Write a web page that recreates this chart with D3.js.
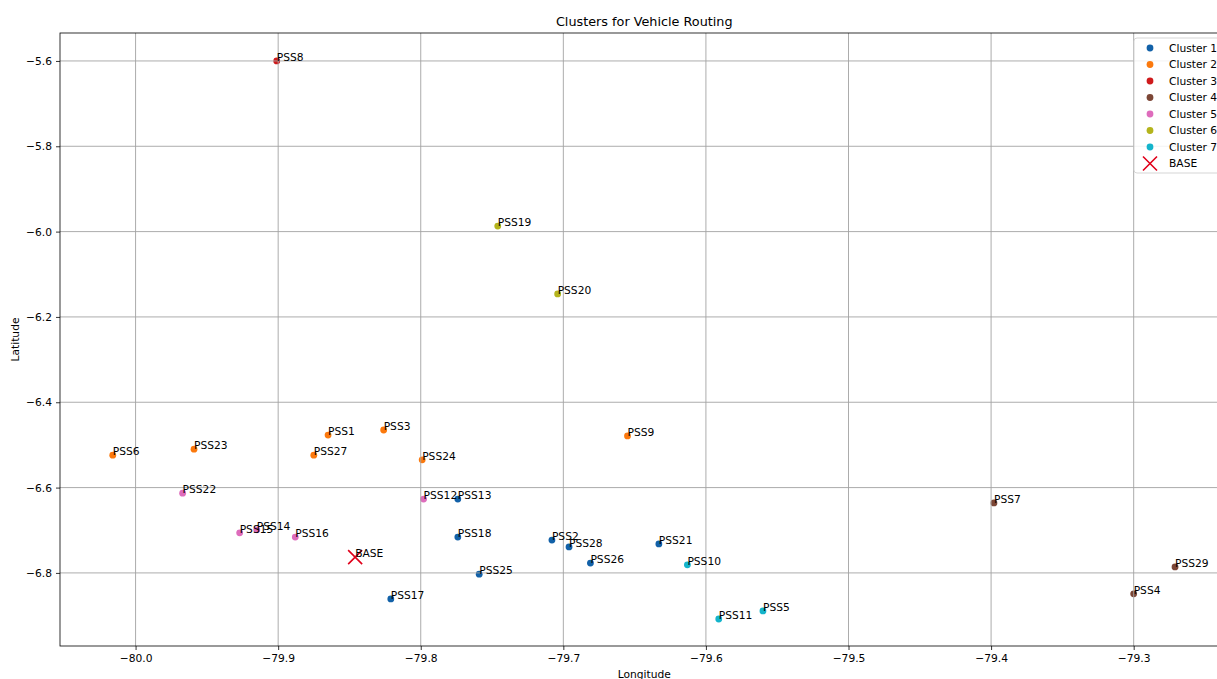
<!DOCTYPE html>
<html>
<head>
<meta charset="utf-8">
<script src="https://cdn.jsdelivr.net/npm/d3@7"></script>
<style>
  html, body { margin: 0; padding: 0; background: #fff; }
  svg { display: block; font-family: "DejaVu Sans", sans-serif; }
</style>
</head>
<body>
<svg id="chart" width="1217" height="679"></svg>
<script>
// Stop names, coordinates and cluster assignment
const stations = ["PSS1","PSS2","PSS3","PSS4","PSS5","PSS6","PSS7","PSS8","PSS9","PSS10",
  "PSS11","PSS12","PSS13","PSS14","PSS15","PSS16","PSS17","PSS18","PSS19","PSS20",
  "PSS21","PSS22","PSS23","PSS24","PSS25","PSS26","PSS27","PSS28","PSS29"];
const longitudes = [-79.865,-79.708,-79.826,-79.300,-79.560,-80.016,-79.398,-79.901,-79.655,-79.613,
  -79.591,-79.798,-79.774,-79.915,-79.927,-79.888,-79.821,-79.774,-79.746,-79.704,
  -79.633,-79.967,-79.959,-79.799,-79.759,-79.681,-79.875,-79.696,-79.271];
const latitudes = [-6.477,-6.723,-6.465,-6.849,-6.889,-6.524,-6.636,-5.600,-6.479,-6.781,
  -6.908,-6.627,-6.627,-6.699,-6.706,-6.716,-6.861,-6.716,-5.987,-6.146,
  -6.732,-6.613,-6.510,-6.535,-6.803,-6.777,-6.524,-6.739,-6.786];
const clusterOf = [2,1,2,4,7,2,4,3,2,7,
  7,5,1,5,5,5,1,1,6,6,
  1,5,2,2,1,1,2,1,4];

const clusterNames = ["Cluster 1","Cluster 2","Cluster 3","Cluster 4","Cluster 5","Cluster 6","Cluster 7"];
const clusterColors = ["#1261a8","#fb790d","#cf1a1c","#7c4636","#de6cbc","#b4b41c","#14b4cb"];

const baseName = "BASE";
const baseLon = -79.846;
const baseLat = -6.763;

const xTicks = [-80.0,-79.9,-79.8,-79.7,-79.6,-79.5,-79.4,-79.3];
const yTicks = [-5.6,-5.8,-6.0,-6.2,-6.4,-6.6,-6.8];

const svg = d3.select("#chart");
const W = 1217, H = 679;
const plot = { left: 60, top: 33, right: 1228.5, bottom: 646 };

const x = d3.scaleLinear().domain([-80.053, -79.2335]).range([plot.left, plot.right]);
const y = d3.scaleLinear().domain([-5.5345, -6.9713]).range([plot.top, plot.bottom]);

const fmt = v => d3.format(".1f")(v).replace("-", "\u2212");
const fontSmall = 10.7;

// Points
const pts = stations.map((s, i) => ({ name: s, lon: longitudes[i], lat: latitudes[i], c: clusterOf[i] }));

svg.append("g").selectAll("circle").data(pts).join("circle")
  .attr("cx", d => x(d.lon)).attr("cy", d => y(d.lat)).attr("r", 3.4)
  .attr("fill", d => clusterColors[d.c - 1]);

// BASE marker
const bs = 7;
const bx = x(baseLon), by = y(baseLat);
svg.append("path")
  .attr("d", `M${bx-bs},${by-bs}L${bx+bs},${by+bs}M${bx-bs},${by+bs}L${bx+bs},${by-bs}`)
  .attr("stroke", "#e0001a").attr("stroke-width", 1.6).attr("fill", "none");

// Grid (drawn over markers)
const grid = svg.append("g").attr("stroke", "#a3a3a3").attr("stroke-width", 0.9);
grid.selectAll(".gx").data(xTicks).join("line")
  .attr("x1", d => x(d)).attr("x2", d => x(d)).attr("y1", plot.top).attr("y2", plot.bottom);
grid.selectAll(".gy").data(yTicks).join("line")
  .attr("x1", plot.left).attr("x2", plot.right).attr("y1", d => y(d)).attr("y2", d => y(d));

// Axes
const xAxis = d3.axisBottom(x).tickValues(xTicks).tickFormat(fmt).tickSize(4).tickPadding(4);
const yAxis = d3.axisLeft(y).tickValues(yTicks).tickFormat(fmt).tickSize(4).tickPadding(4);
const gx = svg.append("g").attr("transform", `translate(0,${plot.bottom})`).call(xAxis);
const gy = svg.append("g").attr("transform", `translate(${plot.left},0)`).call(yAxis);
[gx, gy].forEach(g => {
  g.select(".domain").remove();
  g.selectAll("text").attr("font-size", fontSmall).attr("font-family", "DejaVu Sans").attr("fill", "#000");
  g.selectAll("line").attr("stroke", "#000").attr("stroke-width", 0.8);
});

// Frame
svg.append("rect")
  .attr("x", plot.left).attr("y", plot.top)
  .attr("width", plot.right - plot.left).attr("height", plot.bottom - plot.top)
  .attr("fill", "none").attr("stroke", "#000").attr("stroke-width", 0.8);

// Point labels
svg.append("g").selectAll("text").data(pts).join("text")
  .attr("x", d => x(d.lon)).attr("y", d => y(d.lat))
  .attr("font-size", fontSmall).attr("fill", "#000")
  .text(d => d.name);
svg.append("text").attr("x", bx).attr("y", by)
  .attr("font-size", fontSmall).attr("fill", "#000").text(baseName);

// Title and axis labels
svg.append("text").attr("x", (plot.left + plot.right) / 2).attr("y", 26)
  .attr("text-anchor", "middle").attr("font-size", 12.8).text("Clusters for Vehicle Routing");
svg.append("text").attr("x", (plot.left + plot.right) / 2).attr("y", 678)
  .attr("text-anchor", "middle").attr("font-size", fontSmall).text("Longitude");
svg.append("text")
  .attr("transform", `translate(19,${(plot.top + plot.bottom) / 2}) rotate(-90)`)
  .attr("text-anchor", "middle").attr("font-size", fontSmall).text("Latitude");

// Legend
const lg = svg.append("g").attr("transform", "translate(1134,38)");
lg.append("rect").attr("x", 0).attr("y", 0).attr("width", 110).attr("height", 135)
  .attr("rx", 3).attr("fill", "#fff").attr("fill-opacity", 0.85)
  .attr("stroke", "#d0d0d0").attr("stroke-width", 0.9);
const rowH = 16.5;
clusterNames.forEach((n, i) => {
  const cy = 10 + i * rowH;
  lg.append("circle").attr("cx", 16).attr("cy", cy).attr("r", 3.4).attr("fill", clusterColors[i]);
  lg.append("text").attr("x", 35).attr("y", cy).attr("dy", "0.35em")
    .attr("font-size", fontSmall).text(n);
});
{
  const cy = 10 + 7 * rowH, cx = 16, s = 7;
  lg.append("path").attr("d", `M${cx-s},${cy-s}L${cx+s},${cy+s}M${cx-s},${cy+s}L${cx+s},${cy-s}`)
    .attr("stroke", "#e0001a").attr("stroke-width", 1.6).attr("fill", "none");
  lg.append("text").attr("x", 35).attr("y", cy).attr("dy", "0.35em")
    .attr("font-size", fontSmall).text(baseName);
}
</script>
</body>
</html>
